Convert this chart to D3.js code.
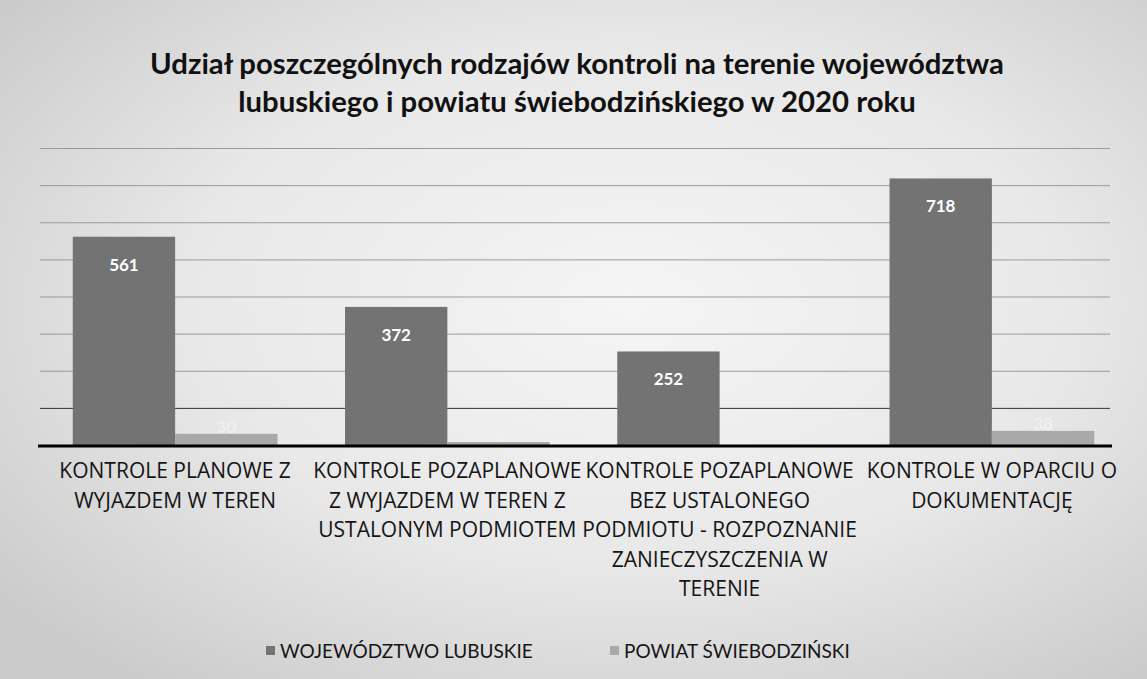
<!DOCTYPE html>
<html>
<head>
<meta charset="utf-8">
<script src="https://cdn.jsdelivr.net/npm/d3@7"></script>
<style>
  body { margin: 0; background: #e6e6e6; }
  svg { display: block; }
</style>
</head>
<body>
<div id="chart"></div>
<script>
var titleLines = ["Udział poszczególnych rodzajów kontroli na terenie województwa",
                  "lubuskiego i powiatu świebodzińskiego w 2020 roku"];

var categories = [
  ["KONTROLE PLANOWE Z", "WYJAZDEM W TEREN"],
  ["KONTROLE POZAPLANOWE", "Z WYJAZDEM W TEREN Z", "USTALONYM PODMIOTEM"],
  ["KONTROLE POZAPLANOWE", "BEZ USTALONEGO", "PODMIOTU - ROZPOZNANIE", "ZANIECZYSZCZENIA W", "TERENIE"],
  ["KONTROLE W OPARCIU O", "DOKUMENTACJĘ"]
];
var seriesNames = ["WOJEWÓDZTWO LUBUSKIE", "POWIAT ŚWIEBODZIŃSKI"];
var wojewodztwo = [561, 372, 252, 718];
var powiat = [30, 8, 0, 38];
var yTicks = [0, 100, 200, 300, 400, 500, 600, 700, 800];

var width = 1147, height = 679;
var colors = ["#737373", "#a9a9a9"];
var font = "Lato, 'Open Sans', sans-serif";
var labelFont = "'Open Sans', Lato, sans-serif";

var svg = d3.select("#chart").append("svg")
    .attr("width", width)
    .attr("height", height);

// scanned paper look: lighter middle, greyer edges
var defs = svg.append("defs");
var grad = defs.append("radialGradient")
    .attr("id", "paper")
    .attr("cx", "55%").attr("cy", "45%").attr("r", "70%");
grad.append("stop").attr("offset", "0%").attr("stop-color", "#f5f5f5");
grad.append("stop").attr("offset", "55%").attr("stop-color", "#e8e8e8");
grad.append("stop").attr("offset", "100%").attr("stop-color", "#cbcbcb");

svg.append("rect")
    .attr("width", width).attr("height", height)
    .attr("fill", "url(#paper)");

// title
svg.append("g").selectAll("text")
    .data(titleLines)
  .enter().append("text")
    .attr("x", 577)
    .attr("y", function(d, i) { return 74 + i * 38; })
    .attr("text-anchor", "middle")
    .style("font-family", font)
    .style("font-weight", "bold")
    .style("font-size", "29.3px")
    .style("fill", "#111")
    .text(function(d) { return d; });

var x0 = d3.scaleBand()
    .domain(d3.range(categories.length))
    .range([39, 1128]);

var x1 = d3.scaleBand()
    .domain([0, 1])
    .range([0, x0.bandwidth()])
    .paddingInner(0)
    .paddingOuter(0.33);

var y = d3.scaleLinear()
    .domain([0, 800])
    .range([445, 148]);

// gridlines
var yAxis = d3.axisLeft(y)
    .tickValues(yTicks.slice(1))
    .tickSize(-(1110 - 40))
    .tickFormat("");

svg.append("g")
    .attr("class", "grid")
    .attr("transform", "translate(40,0)")
    .call(yAxis)
    .call(function(g) {
      g.select(".domain").remove();
      g.selectAll(".tick line")
        .attr("stroke", function(d) { return d == 100 ? "#333" : "#9a9a9a"; })
        .attr("stroke-width", 1);
    });

// bars
var data = categories.map(function(c, i) {
  return { i: i, values: [wojewodztwo[i], powiat[i]] };
});

var groups = svg.append("g").selectAll("g")
    .data(data)
  .enter().append("g")
    .attr("transform", function(d) { return "translate(" + x0(d.i) + ",0)"; });

groups.selectAll("rect")
    .data(function(d) { return d.values.map(function(v, s) { return { s: s, v: v }; }); })
  .enter().append("rect")
    .attr("x", function(d) { return x1(d.s); })
    .attr("width", x1.bandwidth())
    .attr("y", function(d) { return y(d.v); })
    .attr("height", function(d) { return y(0) - y(d.v); })
    .attr("fill", function(d) { return colors[d.s]; });

// value labels
groups.selectAll("text")
    .data(function(d) { return d.values.map(function(v, s) { return { s: s, v: v }; }); })
  .enter().filter(function(d) { return d.v > 0; }).append("text")
    .attr("x", function(d) { return x1(d.s) + x1.bandwidth() / 2; })
    .attr("y", function(d) { return d.s == 0 ? y(d.v) + 34 : y(d.v) - 1; })
    .attr("text-anchor", "middle")
    .style("font-family", font)
    .style("font-weight", "bold")
    .style("font-size", "17px")
    .style("fill", function(d) { return d.s == 0 ? "#fff" : "#f0f0f0"; })
    .text(function(d) { return d.v; });

// x axis line
svg.append("line")
    .attr("x1", 38).attr("x2", 1112)
    .attr("y1", y(0) + 1).attr("y2", y(0) + 1)
    .attr("stroke", "#000")
    .attr("stroke-width", 3);

// category labels
var labels = svg.append("g").selectAll("text")
    .data(categories)
  .enter().append("text")
    .attr("text-anchor", "middle")
    .style("font-family", labelFont)
    .style("font-size", "21px")
    .style("fill", "#151515");

labels.selectAll("tspan")
    .data(function(d, i) { return d.map(function(line) { return { i: i, line: line }; }); })
  .enter().append("tspan")
    .attr("x", function(d) { return x0(d.i) + x0.bandwidth() / 2; })
    .attr("y", function(d, j) { return 478 + j * 29.5; })
    .text(function(d) { return d.line; });

// legend
var legendX = [266, 610];
var legend = svg.append("g").selectAll("g")
    .data(seriesNames)
  .enter().append("g")
    .attr("transform", function(d, i) { return "translate(" + legendX[i] + ",651)"; });

legend.append("rect")
    .attr("x", 0).attr("y", -5)
    .attr("width", 9).attr("height", 9)
    .attr("fill", function(d, i) { return colors[i]; });

legend.append("text")
    .attr("x", 14)
    .attr("y", 7)
    .style("font-family", font)
    .style("font-size", "19px")
    .style("fill", "#151515")
    .text(function(d) { return d; });
</script>
</body>
</html>
